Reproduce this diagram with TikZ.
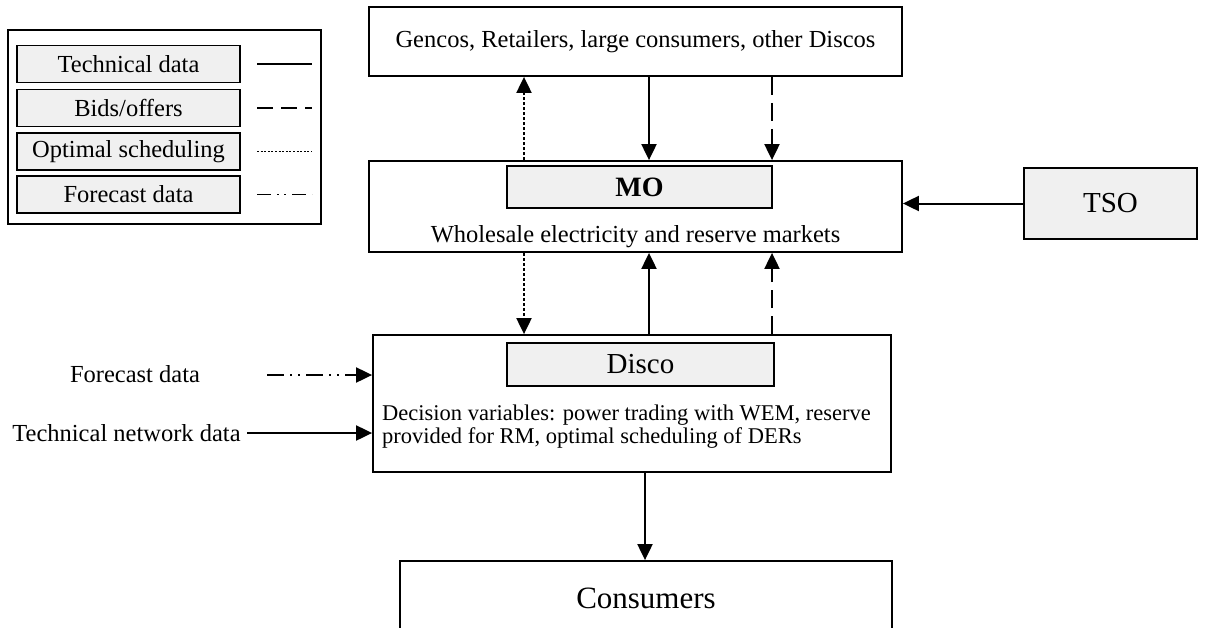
\documentclass[tikz,border=0pt]{standalone}
\usepackage{fontspec}
\setmainfont{Liberation Serif}
\usetikzlibrary{arrows.meta,calc}
\tikzset{
  box/.style={draw, line width=1.8pt, rectangle, inner sep=0pt},
  graybox/.style={box, fill=black!6},
  txt/.style={inner sep=0pt, font=\fontsize{24.5}{29}\selectfont},
  conn/.style={line width=2pt, -{Triangle[length=16pt,width=15pt]}},
  dotline/.style={dash pattern=on 3pt off 2pt},
  dashline/.style={dash pattern=on 18pt off 8pt},
  fcline/.style={dash pattern=on 17pt off 6pt on 2pt off 6pt on 2pt off 6pt},
  sample/.style={line width=1.6pt},
}
\begin{document}
\begin{tikzpicture}[x=1pt,y=-1pt]
\useasboundingbox (0,0) rectangle (1205,627);
\clip (0,0) rectangle (1205,627);
% legend
\node[box, minimum width=313pt, minimum height=194pt] (legend) at (164.5,127) {};
\node[graybox, txt, minimum width=223pt, minimum height=37pt] (lg1) at (128.5,64) {Technical data};
\node[graybox, txt, minimum width=223pt, minimum height=37pt] (lg2) at (128.5,108) {Bids/offers};
\node[graybox, txt, minimum width=223pt, minimum height=37pt] (lg3) at (128.5,151.5) {Optimal scheduling};
\node[graybox, txt, minimum width=223pt, minimum height=37pt] (lg4) at (128.5,194.5) {Forecast data};
\coordinate (s1a) at (257,64);  \coordinate (s1b) at (312,64);
\coordinate (s2a) at (257,108); \coordinate (s2b) at (312,108);
\coordinate (s3a) at (257,151.5); \coordinate (s3b) at (312,151.5);
\coordinate (s4a) at (257,194.5); \coordinate (s4b) at (312,194.5);
\draw[sample] (s1a) -- (s1b);
\draw[sample, dash pattern=on 16pt off 8pt] (s2a) -- (s2b);
\draw[sample, line width=1.3pt, dash pattern=on 2pt off 1.6pt] (s3a) -- (s3b);
\draw[sample, dash pattern=on 14pt off 6pt on 2pt off 5pt on 2pt off 6pt] (s4a) -- (s4b);

% main boxes
\node[box, txt, minimum width=533pt, minimum height=69pt] (gencos) at (635.5,41.5) {Gencos, Retailers, large consumers, other Discos};
\node[box, minimum width=533pt, minimum height=91pt] (wem) at (635.5,206.5) {};
\node[graybox, txt, font=\fontsize{28}{32}\selectfont\bfseries, minimum width=265pt, minimum height=42pt] (mo) at (639.5,187) {MO};
\node[txt] (wemtext) at (635.5,237) {Wholesale electricity and reserve markets};
\node[graybox, txt, font=\fontsize{29}{34}\selectfont, minimum width=173pt, minimum height=71pt] (tso) at (1110.5,203.5) {TSO};
\node[box, minimum width=518pt, minimum height=137pt] (disco) at (632,403.5) {};
\node[graybox, txt, font=\fontsize{29}{34}\selectfont, minimum width=267pt, minimum height=43pt] (discoin) at (640.5,364.5) {Disco};
\node[txt, anchor=west, align=left, font=\fontsize{22.5}{23}\selectfont] (discotext) at (382,426.5) {Decision variables: power trading with WEM, reserve\\provided for RM, optimal scheduling of DERs};
\node[box, minimum width=492pt, minimum height=139pt] (cons) at (646,630.5) {};
\node[txt, font=\fontsize{31}{36}\selectfont] (constext) at (646,598) {Consumers};
\node[txt] (fctext) at (135,374) {Forecast data};
\node[txt] (tndtext) at (126.5,433) {Technical network data};

% x positions of the vertical connectors
\coordinate (xa) at (524,0);
\coordinate (xb) at (649,0);
\coordinate (xc) at (772,0);
\coordinate (xd) at (645,0);
\coordinate (fcstart) at (267,375);
\coordinate (tndstart) at (247,433);

\draw[conn, dotline] (wem.north -| xa) -- (gencos.south -| xa);
\draw[conn] (gencos.south -| xb) -- (wem.north -| xb);
\draw[conn, dashline] (gencos.south -| xc) -- (wem.north -| xc);
\draw[conn, dotline] (wem.south -| xa) -- (disco.north -| xa);
\draw[conn] (disco.north -| xb) -- (wem.south -| xb);
\draw[conn, dashline] (disco.north -| xc) -- (wem.south -| xc);
\draw[conn] (tso.west) -- (tso.west -| wem.east);
\draw[conn, fcline] (fcstart) -- (fcstart -| disco.west);
\draw[conn] (tndstart) -- (tndstart -| disco.west);
\draw[conn] (disco.south -| xd) -- (cons.north -| xd);
\end{tikzpicture}
\end{document}
